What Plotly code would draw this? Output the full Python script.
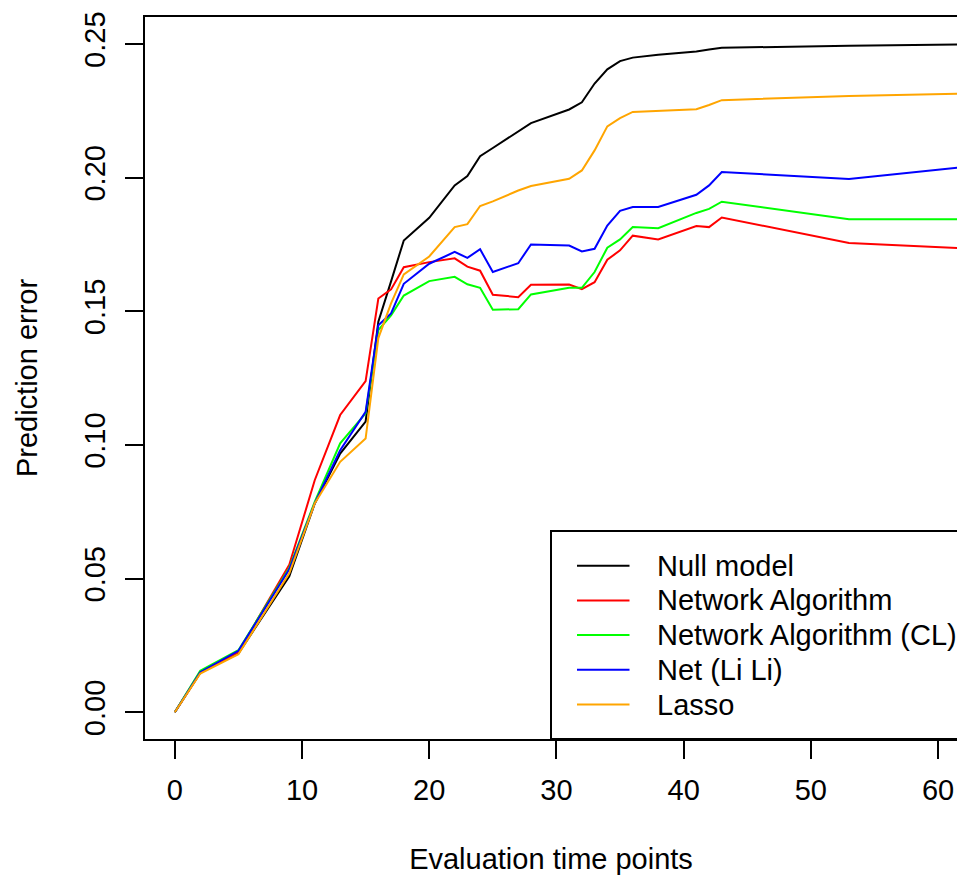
import plotly.graph_objects as go

time_points = [0, 2, 5, 9, 11, 13, 15, 16, 17, 18, 20, 22, 23, 24, 25, 27, 28,
               31, 32, 33, 34, 35, 36, 38, 41, 42, 43, 53, 62]

null_model = [0.000, 0.0148, 0.0220, 0.0509, 0.0781, 0.0968, 0.1087, 0.1461, 0.1612,
              0.1765, 0.1850, 0.1971, 0.2006, 0.2080, 0.2111, 0.2171, 0.2204, 0.2255,
              0.2282, 0.2352, 0.2405, 0.2436, 0.2449, 0.2460, 0.2472, 0.2479, 0.2486,
              0.2493, 0.2498]
network_alg = [0.000, 0.0148, 0.0225, 0.0552, 0.0868, 0.1112, 0.1239, 0.1548, 0.1582,
               0.1665, 0.1684, 0.1698, 0.1667, 0.1652, 0.1562, 0.1553, 0.1599, 0.1600,
               0.1583, 0.1609, 0.1693, 0.1728, 0.1783, 0.1769, 0.1819, 0.1815, 0.1851,
               0.1756, 0.1736]
network_alg_cl = [0.000, 0.0155, 0.0232, 0.0540, 0.0787, 0.1006, 0.1118, 0.1430, 0.1485,
                  0.1559, 0.1613, 0.1629, 0.1601, 0.1588, 0.1506, 0.1508, 0.1563, 0.1588,
                  0.1588, 0.1647, 0.1738, 0.1769, 0.1815, 0.1811, 0.1868, 0.1883, 0.1910,
                  0.1844, 0.1844]
net_lili = [0.000, 0.0150, 0.0230, 0.0535, 0.0781, 0.0980, 0.1124, 0.1448, 0.1492,
            0.1603, 0.1678, 0.1722, 0.1700, 0.1732, 0.1647, 0.1680, 0.1750, 0.1746,
            0.1724, 0.1734, 0.1821, 0.1876, 0.1890, 0.1890, 0.1936, 0.1971, 0.2021,
            0.1995, 0.2040]
lasso = [0.000, 0.0145, 0.0217, 0.0520, 0.0781, 0.0937, 0.1024, 0.1400, 0.1530,
         0.1638, 0.1705, 0.1815, 0.1826, 0.1894, 0.1911, 0.1952, 0.1969, 0.1996,
         0.2027, 0.2102, 0.2192, 0.2223, 0.2246, 0.2250, 0.2256, 0.2272, 0.2290,
         0.2305, 0.2314]

series_names = ["Null model", "Network Algorithm", "Network Algorithm (CL)", "Net (Li Li)", "Lasso"]
series_values = [null_model, network_alg, network_alg_cl, net_lili, lasso]
series_colors = ["#000000", "#FF0000", "#00FF00", "#0000FF", "#FFA500"]

x_ticks = [0, 10, 20, 30, 40, 50, 60]
y_ticks = [0.00, 0.05, 0.10, 0.15, 0.20, 0.25]
y_tick_labels = ["0.00", "0.05", "0.10", "0.15", "0.20", "0.25"]

FONT = "Liberation Sans, Arial, Helvetica, sans-serif"
FS = 29

fig = go.Figure()
for name, vals, col in zip(series_names, series_values, series_colors):
    fig.add_trace(go.Scatter(x=time_points, y=vals, mode="lines", name=name,
                             line=dict(color=col, width=2), showlegend=False,
                             hoverinfo="skip"))

# page body margin is removed (see post_script), so layout = screen pixels
W, H = 957, 876
plot_l, plot_r, plot_t, plot_b = 145, 957, 17, 739   # plot box in pixels
ml = plot_l
mt = plot_t
mr = W - plot_r
mb = H - plot_b
pw = plot_r - plot_l
ph = plot_b - plot_t

def sx(p):
    return (p - plot_l) / pw

def sy(p):
    return (plot_b - p) / ph

# legend (bottom-right box, drawn like R's legend())
shapes = [dict(type="rect", xref="paper", yref="paper",
               x0=sx(551), x1=sx(1100), y0=sy(739), y1=sy(531),
               line=dict(color="black", width=2), fillcolor="rgba(0,0,0,0)",
               layer="above")]
annotations = []
leg_y0, leg_dy = 565.7, 34.7
for i, (name, col) in enumerate(zip(series_names, series_colors)):
    yy = sy(leg_y0 + i * leg_dy)
    shapes.append(dict(type="line", xref="paper", yref="paper",
                       x0=sx(577), x1=sx(629.5), y0=yy, y1=yy,
                       line=dict(color=col, width=2)))
    annotations.append(dict(text=name, xref="paper", yref="paper", x=sx(655), y=yy,
                            xanchor="left", yanchor="middle", showarrow=False,
                            font=dict(family=FONT, size=FS, color="black")))

fig.update_layout(
    width=W, height=H,
    margin=dict(l=ml, r=mr, t=mt, b=mb, pad=0),
    paper_bgcolor="white", plot_bgcolor="white",
    font=dict(family=FONT, size=FS, color="black"),
    showlegend=False,
    hovermode=False,
    xaxis=dict(range=[-2.343, 61.49], tickvals=x_ticks, ticktext=[str(v) for v in x_ticks],
               showgrid=False, zeroline=False, showline=True, linecolor="black", linewidth=2,
               mirror=True, ticks="outside", ticklen=18, tickwidth=2, tickcolor="black",
               ticklabelstandoff=6,
               tickfont=dict(family=FONT, size=FS),
               title=dict(text="Evaluation time points", font=dict(family=FONT, size=FS),
                          standoff=44)),
    yaxis=dict(range=[-0.0100, 0.2601], tickvals=y_ticks, ticktext=y_tick_labels,
               tickangle=-90,
               showgrid=False, zeroline=False, showline=True, linecolor="black", linewidth=2,
               mirror=False, ticks="outside", ticklen=18, tickwidth=2, tickcolor="black",
               ticklabelstandoff=8,
               tickfont=dict(family=FONT, size=FS),
               title=dict(text="Prediction error", font=dict(family=FONT, size=FS),
                          standoff=33)),
    shapes=shapes,
    annotations=annotations,
)

fig.write_html("out.html",
               config={"displayModeBar": False, "staticPlot": True},
               post_script="document.body.style.margin='0';document.body.style.overflow='hidden';")
